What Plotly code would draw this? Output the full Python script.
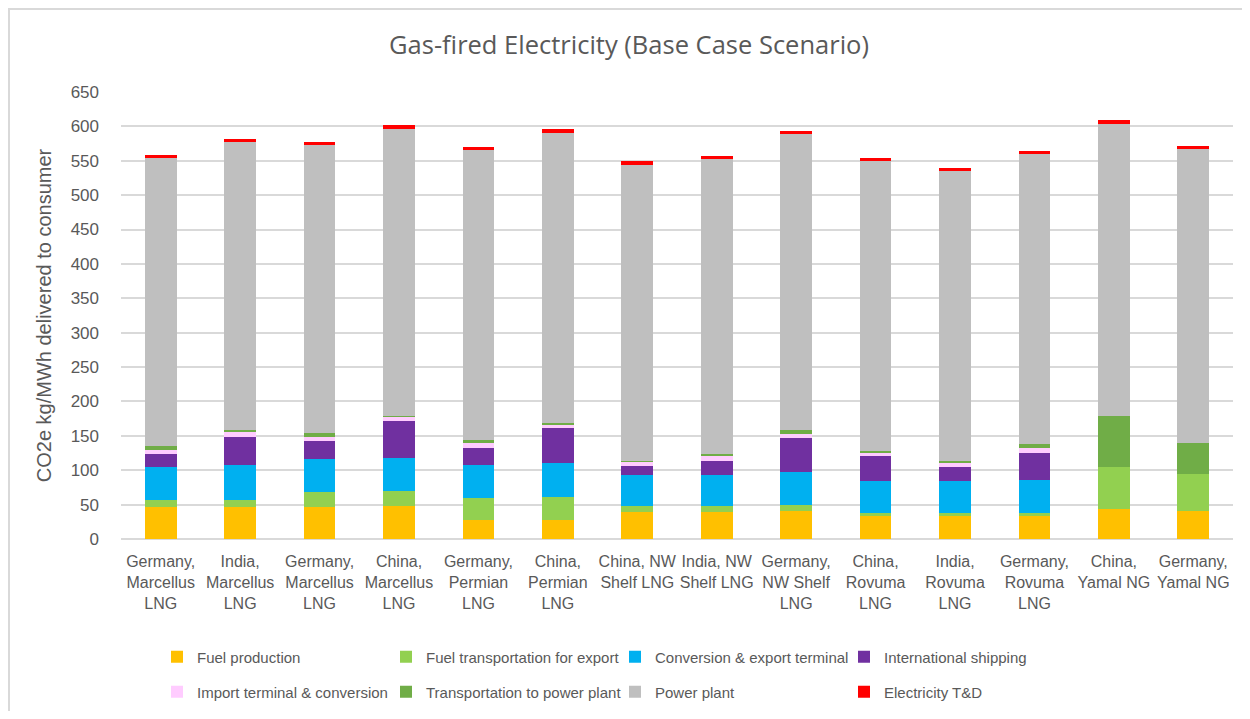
import plotly.graph_objects as go

categories = [
    "Germany,<br>Marcellus<br>LNG", "India,<br>Marcellus<br>LNG", "Germany,<br>Marcellus<br>LNG",
    "China,<br>Marcellus<br>LNG", "Germany,<br>Permian<br>LNG", "China,<br>Permian<br>LNG",
    "China, NW<br>Shelf LNG", "India, NW<br>Shelf LNG", "Germany,<br>NW Shelf<br>LNG",
    "China,<br>Rovuma<br>LNG", "India,<br>Rovuma<br>LNG", "Germany,<br>Rovuma<br>LNG",
    "China,<br>Yamal NG", "Germany,<br>Yamal NG",
]

fuel_production = [46, 46, 46, 48, 28, 28, 39, 39, 41, 34, 34, 34, 43, 41]
fuel_transport_export = [11, 11, 22, 22, 32, 33, 9, 9, 9, 3.5, 3.5, 3.5, 61, 54]
conversion_export = [48, 51, 49, 48, 47, 49, 45, 45, 47, 47, 47, 49, 0, 0]
international_shipping = [18, 41, 25, 53, 25, 51, 12.5, 21, 50, 36, 20, 39, 0, 0]
import_terminal = [7, 7, 7, 7, 7, 6, 7, 7, 5, 5, 7, 7, 0, 0]
transport_power_plant = [5, 2, 5, 1.5, 5, 2, 1.5, 2.5, 7, 2, 1.5, 5, 75, 45]
power_plant = [419, 419, 419, 417, 421, 422, 430, 429, 430, 422, 422, 422, 425, 427]
electricity_td = [5, 5, 5, 5, 5, 5, 5, 5, 5, 5, 5, 5, 5, 5]

series_names = [
    "Fuel production", "Fuel transportation for export", "Conversion & export terminal",
    "International shipping", "Import terminal & conversion", "Transportation to power plant",
    "Power plant", "Electricity T&D",
]
series_values = [
    fuel_production, fuel_transport_export, conversion_export, international_shipping,
    import_terminal, transport_power_plant, power_plant, electricity_td,
]
series_colors = ["#FFC000", "#92D050", "#00B0F0", "#7030A0", "#FFCCFF", "#70AD47", "#BFBFBF", "#FF0000"]

x_pos = list(range(len(categories)))

fig = go.Figure()
for i, (name, vals, col) in enumerate(zip(series_names, series_values, series_colors)):
    fig.add_trace(go.Bar(
        x=x_pos, y=vals, name=name, marker=dict(color=col, line=dict(width=0)),
        legend="legend" if i < 4 else "legend2",
    ))

FONT = "Liberation Sans, Arial, sans-serif"
GREY = "#595959"
W, H = 1234, 703

legend_common = dict(orientation="h", traceorder="normal", xref="container", yref="container",
                     xanchor="left", yanchor="middle", entrywidth=184, itemwidth=30,
                     font=dict(family=FONT, size=15, color=GREY), bgcolor="rgba(0,0,0,0)")

fig.update_layout(
    width=W, height=H,
    barmode="stack", bargap=0.6,
    plot_bgcolor="white", paper_bgcolor="white",
    margin=dict(l=113, r=9, t=84, b=172, autoexpand=False),
    title=dict(text="Gas-fired Electricity (Base Case Scenario)", x=621 / W, xanchor="center",
               y=1 - 37 / H, yanchor="middle",
               font=dict(family="Open Sans, Noto Sans, sans-serif", size=25.5, color=GREY)),
    xaxis=dict(tickmode="array", tickvals=x_pos, ticktext=categories, tickangle=0,
               range=[-0.5, len(categories) - 0.5], showgrid=False, zeroline=False,
               showline=False, ticks="", automargin=False, ticklabelstandoff=11,
               tickfont=dict(family=FONT, size=16, color=GREY)),
    yaxis=dict(range=[0, 650], dtick=50, showgrid=True, gridcolor="#D9D9D9", gridwidth=1.5,
               zeroline=True, zerolinecolor="#D9D9D9", zerolinewidth=1.5, showline=False,
               ticks="", ticklabelstandoff=21, automargin=False,
               tickfont=dict(family=FONT, size=17, color=GREY),
               title=dict(text="CO2e kg/MWh delivered to consumer",
                          font=dict(family=FONT, size=20, color=GREY), standoff=13)),
    legend=dict(x=149 / W, y=1 - 649 / H, **legend_common),
    legend2=dict(x=149 / W, y=1 - 684 / H, **legend_common),
    showlegend=True,
)

# partial chart border (top and left), as in the reference
fig.add_shape(type="line", xref="paper", yref="paper",
              x0=-113 / 1112, x1=1.02, y0=(447 + 83) / 447, y1=(447 + 83) / 447,
              line=dict(color="#D9D9D9", width=2))
fig.add_shape(type="line", xref="paper", yref="paper",
              x0=-112 / 1112, x1=-112 / 1112, y0=(447 + 84) / 447, y1=-172 / 447,
              line=dict(color="#D9D9D9", width=2))

fig.write_html("out.html")
